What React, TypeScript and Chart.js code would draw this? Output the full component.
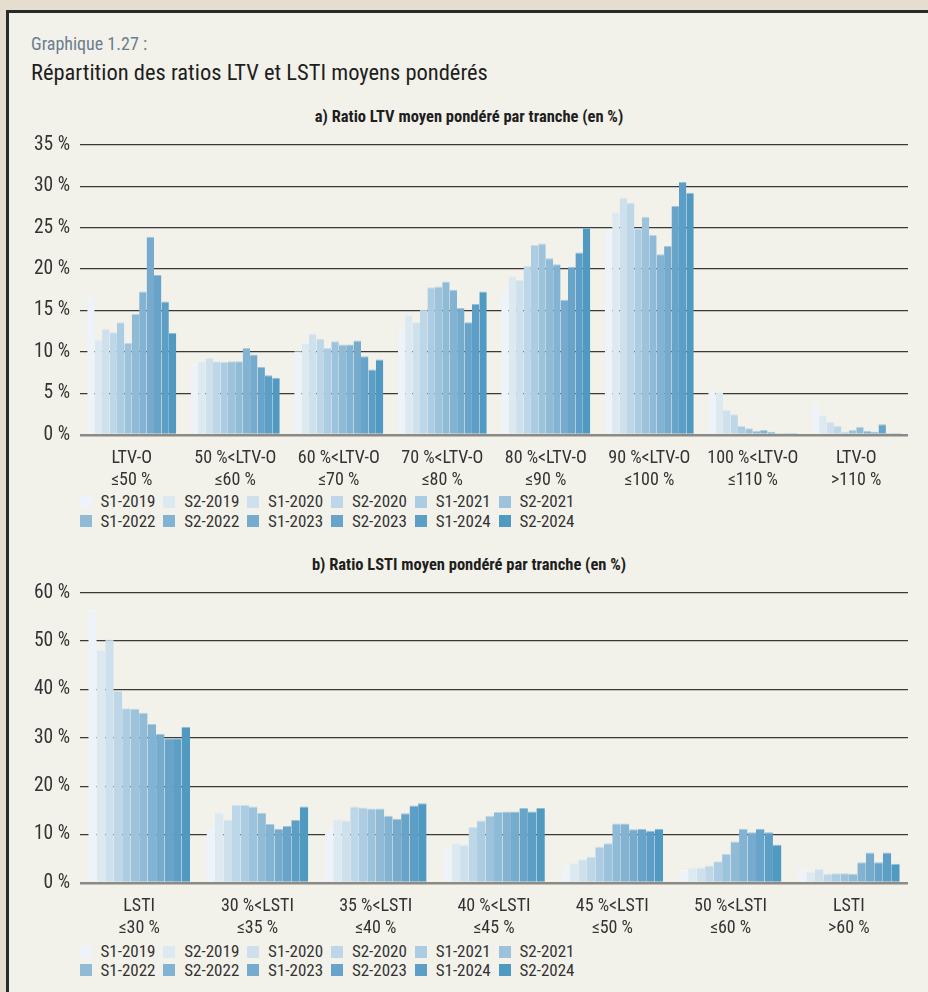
import React, { useEffect, useRef } from "react";
import { Chart, registerables } from "chart.js";

Chart.register(...registerables);

// ---------- data ----------
const SERIES = [
  "S1-2019", "S2-2019", "S1-2020", "S2-2020", "S1-2021", "S2-2021",
  "S1-2022", "S2-2022", "S1-2023", "S2-2023", "S1-2024", "S2-2024",
];
const COLORS = [
  "#edf3f8", "#dce9f1", "#cde0ec", "#bdd7e8", "#abcce2", "#9dc3dc",
  "#90bbd7", "#83b3d2", "#76abcd", "#68a4c9", "#5c9ec5", "#509ac1",
];

const LTV_LABELS = [
  ["LTV-O", "≤50 %"],
  ["50 %<LTV-O", "≤60 %"],
  ["60 %<LTV-O", "≤70 %"],
  ["70 %<LTV-O", "≤80 %"],
  ["80 %<LTV-O", "≤90 %"],
  ["90 %<LTV-O", "≤100 %"],
  ["100 %<LTV-O", "≤110 %"],
  ["LTV-O", ">110 %"],
];
const LTV_LE50 = [16.7, 11.5, 12.8, 12.4, 13.6, 11.1, 14.6, 17.3, 23.9, 19.3, 16.1, 12.3];
const LTV_50_60 = [8.6, 8.9, 9.3, 8.9, 8.8, 8.9, 8.9, 10.5, 9.7, 8.2, 7.2, 6.9];
const LTV_60_70 = [10.1, 11.1, 12.2, 11.6, 10.5, 11.3, 10.9, 10.9, 11.4, 9.5, 7.9, 9.1];
const LTV_70_80 = [12.8, 14.5, 13.6, 15.1, 17.8, 17.9, 18.5, 17.5, 15.3, 13.6, 15.8, 17.3];
const LTV_80_90 = [17.3, 19.2, 18.7, 20.4, 22.9, 23.1, 21.3, 20.6, 16.3, 20.3, 22.0, 25.0];
const LTV_90_100 = [24.8, 26.9, 28.6, 28.0, 24.9, 26.3, 24.1, 21.8, 22.8, 27.6, 30.5, 29.2];
const LTV_100_110 = [5.5, 5.2, 3.0, 2.5, 1.1, 0.8, 0.5, 0.6, 0.4, 0.2, 0.2, 0.1];
const LTV_GT110 = [3.8, 2.4, 1.6, 1.1, 0.4, 0.6, 1.0, 0.5, 0.4, 1.3, 0.2, 0.1];
const LTV_ROWS = [LTV_LE50, LTV_50_60, LTV_60_70, LTV_70_80, LTV_80_90, LTV_90_100, LTV_100_110, LTV_GT110];
const LTV_MAX = 35;
const LTV_STEP = 5;

const LSTI_LABELS = [
  ["LSTI", "≤30 %"],
  ["30 %<LSTI", "≤35 %"],
  ["35 %<LSTI", "≤40 %"],
  ["40 %<LSTI", "≤45 %"],
  ["45 %<LSTI", "≤50 %"],
  ["50 %<LSTI", "≤60 %"],
  ["LSTI", ">60 %"],
];
const LSTI_LE30 = [56.4, 48.2, 50.4, 39.7, 36.1, 36.0, 35.2, 32.9, 30.8, 29.9, 29.9, 32.3];
const LSTI_30_35 = [11.4, 14.5, 13.1, 16.1, 16.1, 15.8, 14.5, 12.2, 11.2, 11.8, 13.0, 15.8];
const LSTI_35_40 = [11.2, 13.2, 12.9, 15.8, 15.6, 15.4, 15.4, 13.9, 13.3, 14.4, 16.0, 16.5];
const LSTI_40_45 = [6.9, 8.3, 7.9, 11.6, 12.9, 13.9, 14.7, 14.8, 14.8, 15.5, 14.8, 15.5];
const LSTI_45_50 = [3.6, 4.2, 4.9, 5.4, 7.5, 8.2, 12.3, 12.3, 11.1, 11.2, 10.8, 11.2];
const LSTI_50_60 = [2.7, 3.2, 3.2, 3.6, 4.5, 6.0, 8.6, 11.2, 10.5, 11.2, 10.5, 7.9];
const LSTI_GT60 = [2.7, 2.3, 2.9, 1.9, 2.0, 2.0, 1.9, 4.3, 6.3, 4.3, 6.3, 4.0];
const LSTI_ROWS = [LSTI_LE30, LSTI_30_35, LSTI_35_40, LSTI_40_45, LSTI_45_50, LSTI_50_60, LSTI_GT60];
const LSTI_MAX = 60;
const LSTI_STEP = 10;

const TEXT_GRAPH = "Graphique 1.27 :";
const TEXT_TITLE = "Répartition des ratios LTV et LSTI moyens pondérés";
const TEXT_SUB_A = "a) Ratio LTV moyen pondéré par tranche (en %)";
const TEXT_SUB_B = "b) Ratio LSTI moyen pondéré par tranche (en %)";

// ---------- style ----------
const FONT = "'Liberation Sans Narrow', 'Roboto Condensed', Roboto, sans-serif";
const PAGE_BG = "#e5dece";
const PANEL_BG = "#f2f1ea";
const TEXT_COLOR = "#333333";

function lighten(hex: string, amt: number) {
  const n = parseInt(hex.slice(1), 16);
  const r = (n >> 16) & 255, g = (n >> 8) & 255, b = n & 255;
  const f = (c: number) => Math.round(c + (255 - c) * amt);
  return `rgb(${f(r)},${f(g)},${f(b)})`;
}

type BarProps = {
  labels: string[][];
  rows: number[][];
  yMax: number;
  yStep: number;
  top: number;
};

const CANVAS_H = 367;

function BarChart({ labels, rows, yMax, yStep, top }: BarProps) {
  const ref = useRef<HTMLCanvasElement | null>(null);
  useEffect(() => {
    if (!ref.current) return;
    const datasets = SERIES.map((name, si) => ({
      label: name,
      data: rows.map((r) => r[si]),
      backgroundColor: COLORS[si],
      borderColor: lighten(COLORS[si], 0.35),
      borderWidth: { top: 1, left: 0, right: 0, bottom: 0 },
      borderSkipped: "bottom" as const,
      categoryPercentage: 0.86,
      barPercentage: 1,
    }));
    const chart = new Chart(ref.current, {
      type: "bar",
      data: { labels, datasets },
      options: {
        responsive: false,
        animation: false,
        layout: { padding: { top: 8, right: 20, left: 0, bottom: 0 } },
        plugins: {
          legend: { display: false },
          tooltip: { enabled: false },
          title: { display: false },
        },
        scales: {
          x: {
            grid: { display: false, drawTicks: false },
            border: { display: false },
            ticks: {
              color: TEXT_COLOR,
              font: { family: FONT, size: 18, lineHeight: 1.22 },
              padding: 13,
              maxRotation: 0,
              autoSkip: false,
            },
            afterFit: (s: any) => {
              s.height = 55;
            },
          },
          y: {
            min: 0,
            max: yMax,
            ticks: {
              stepSize: yStep,
              color: TEXT_COLOR,
              font: { family: FONT, size: 19.5 },
              padding: 10,
              callback: (v: any) => `${v} %`,
            },
            grid: {
              drawTicks: false,
              color: (ctx: any) => (ctx.tick && ctx.tick.value === 0 ? "#8c8a85" : "#3a3a3a"),
              lineWidth: (ctx: any) => (ctx.tick && ctx.tick.value === 0 ? 2.5 : 1.3),
            },
            border: { display: false },
            afterFit: (s: any) => {
              s.width = 80;
            },
          },
        },
      },
    });
    return () => chart.destroy();
  }, [labels, rows, yMax, yStep]);
  return (
    <canvas
      ref={ref}
      width={928}
      height={CANVAS_H}
      style={{ position: "absolute", left: 0, top, width: 928, height: CANVAS_H }}
    />
  );
}

function Legend({ rowTops }: { rowTops: number[] }) {
  return (
    <>
      {SERIES.map((name, i) => {
        const row = Math.floor(i / 6);
        const col = i % 6;
        const left = 79.5 + col * 83.8;
        const cy = rowTops[row];
        return (
          <div key={name}>
            <div
              style={{
                position: "absolute",
                left,
                top: cy - 6,
                width: 12,
                height: 12,
                background: COLORS[i],
              }}
            />
            <div
              style={{
                position: "absolute",
                left: left + 21,
                top: cy - 8.5,
                fontFamily: FONT,
                fontSize: 17,
                lineHeight: "17px",
                color: TEXT_COLOR,
                whiteSpace: "nowrap",
              }}
            >
              {name}
            </div>
          </div>
        );
      })}
    </>
  );
}

export default function App() {
  return (
    <div
      style={{
        position: "absolute",
        left: 0,
        top: 0,
        width: 928,
        height: 992,
        background: PAGE_BG,
        overflow: "hidden",
      }}
    >
      <div
        style={{
          position: "absolute",
          left: 6,
          top: 10,
          right: 0,
          bottom: 0,
          background: PANEL_BG,
          borderTop: "3px solid #2a2a2a",
          borderLeft: "3px solid #2a2a2a",
        }}
      />
      <div
        style={{
          position: "absolute",
          left: 31,
          top: 35,
          fontFamily: FONT,
          fontSize: 18,
          lineHeight: "18px",
          color: "#6b7d8e",
          whiteSpace: "nowrap",
        }}
      >
        {TEXT_GRAPH}
      </div>
      <div
        style={{
          position: "absolute",
          left: 31,
          top: 61,
          fontFamily: FONT,
          fontSize: 22.5,
          lineHeight: "22.5px",
          color: "#1e1e1e",
          whiteSpace: "nowrap",
        }}
      >
        {TEXT_TITLE}
      </div>
      <div
        style={{
          position: "absolute",
          left: 0,
          width: 938,
          top: 108.5,
          textAlign: "center",
          fontFamily: FONT,
          fontWeight: "bold",
          fontSize: 16.5,
          lineHeight: "16.5px",
          color: "#1e1e1e",
          whiteSpace: "nowrap",
        }}
      >
        {TEXT_SUB_A}
      </div>
      <BarChart labels={LTV_LABELS} rows={LTV_ROWS} yMax={LTV_MAX} yStep={LTV_STEP} top={123} />
      <Legend rowTops={[501.5, 521]} />
      <div
        style={{
          position: "absolute",
          left: 0,
          width: 938,
          top: 556.5,
          textAlign: "center",
          fontFamily: FONT,
          fontWeight: "bold",
          fontSize: 16.5,
          lineHeight: "16.5px",
          color: "#1e1e1e",
          whiteSpace: "nowrap",
        }}
      >
        {TEXT_SUB_B}
      </div>
      <BarChart labels={LSTI_LABELS} rows={LSTI_ROWS} yMax={LSTI_MAX} yStep={LSTI_STEP} top={571} />
      <Legend rowTops={[951.5, 970]} />
    </div>
  );
}
